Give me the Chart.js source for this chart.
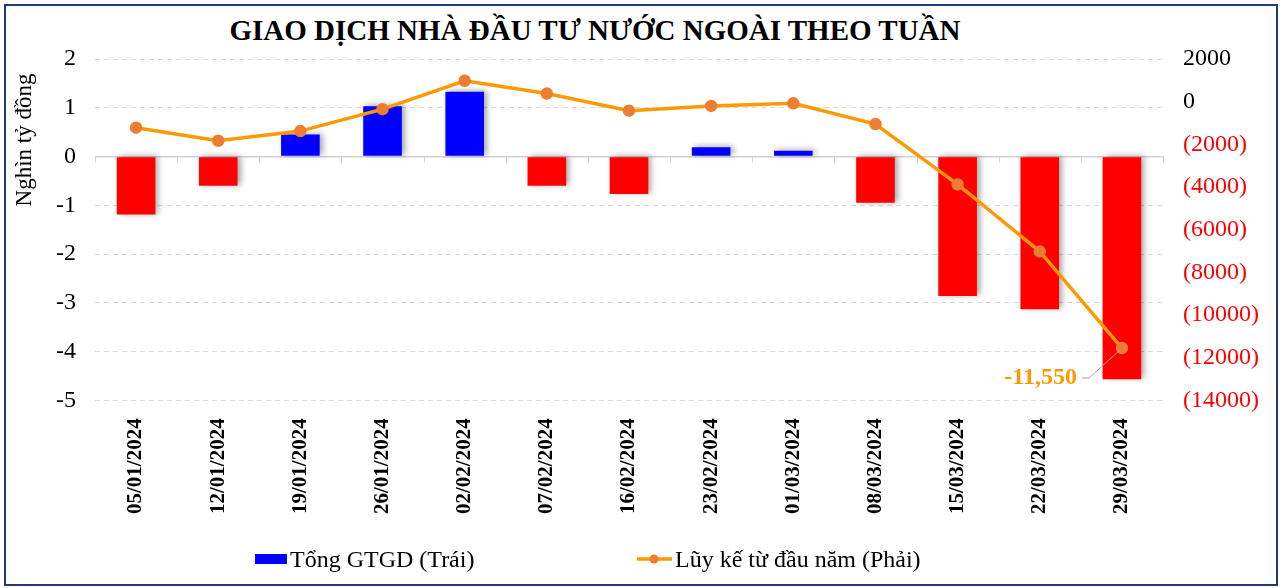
<!DOCTYPE html>
<html lang="vi">
<head>
  <meta charset="UTF-8" />
  <title>Giao dịch nhà đầu tư nước ngoài theo tuần</title>
  <script src="https://cdn.jsdelivr.net/npm/chart.js"></script>
  <style>
    body {
      margin: 0;
      background-color: #fff;
    }

    .frame {
      position: relative;
      width: 1280px;
      height: 588px;
      overflow: hidden;
    }

    .border {
      position: absolute;
      left: 4px;
      top: 4px;
      width: 1270px;
      height: 578px;
      border: 2px solid #1f3a7a;
      pointer-events: none;
    }

    .title {
      position: absolute;
      left: 0;
      top: 13px;
      width: 1190px;
      text-align: center;
      font-family: "Liberation Serif", serif;
      font-weight: bold;
      font-size: 29px;
      line-height: 34px;
      color: #000;
    }

    canvas {
      position: absolute;
      left: 0;
      top: 0;
    }

    .legend {
      position: absolute;
      top: 544px;
      height: 30px;
      display: flex;
      align-items: center;
      font-family: "Liberation Serif", serif;
      font-size: 24px;
      line-height: 30px;
      color: #000;
    }

    .legend .swatch {
      margin-right: 3px;
    }
  </style>
</head>
<body>
  <div class="frame">
    <div class="title">GIAO DỊCH NHÀ ĐẦU TƯ NƯỚC NGOÀI THEO TUẦN</div>
    <canvas id="chart" width="1280" height="588"></canvas>
    <div class="legend" id="leg0" style="left:255px"></div>
    <div class="legend" id="leg1" style="left:637px"></div>
    <div class="border"></div>
  </div>

  <script>
    const weeks = ["05/01/2024", "12/01/2024", "19/01/2024", "26/01/2024", "02/02/2024", "07/02/2024",
      "16/02/2024", "23/02/2024", "01/03/2024", "08/03/2024", "15/03/2024", "22/03/2024", "29/03/2024"];
    const netValue = [-1.19, -0.6, 0.45, 1.03, 1.33, -0.6, -0.77, 0.19, 0.12, -0.95, -2.86, -3.13, -4.57];
    const cumulative = [-1220, -1830, -1380, -350, 980, 380, -420, -200, -80, -1050, -3880, -7020, -11550];
    const leftTicks = [2, 1, 0, -1, -2, -3, -4, -5];
    const rightTicks = [2000, 0, -2000, -4000, -6000, -8000, -10000, -12000, -14000];

    const serif = "'Liberation Serif', 'Times New Roman', serif";

    // bóng đổ cho cột
    const barShadow = {
      id: "barShadow",
      beforeDatasetDraw(chart, args) {
        if (args.index !== 0) return;
        const ctx = chart.ctx;
        ctx.save();
        ctx.shadowColor = "rgba(0,0,0,0.35)";
        ctx.shadowBlur = 6;
        ctx.shadowOffsetX = 3;
        ctx.shadowOffsetY = -1;
      },
      afterDatasetDraw(chart, args) {
        if (args.index !== 0) return;
        chart.ctx.restore();
      }
    };

    // vạch chia trên đường 0 + tên trục trái
    const extras = {
      id: "extras",
      beforeDatasetsDraw(chart) {
        const x = chart.scales.x;
        const y0 = chart.scales.y.getPixelForValue(0);
        const step = (x.right - x.left) / weeks.length;
        const ctx = chart.ctx;
        ctx.save();
        ctx.strokeStyle = "#d0d0d0";
        ctx.lineWidth = 1;
        ctx.beginPath();
        for (let i = 0; i <= weeks.length; i++) {
          const px = Math.round(x.left + step * i) + 0.5;
          ctx.moveTo(px, y0);
          ctx.lineTo(px, y0 + 6);
        }
        ctx.stroke();

        ctx.translate(25, 140);
        ctx.rotate(-Math.PI / 2);
        ctx.fillStyle = "#000";
        ctx.font = "23px " + serif;
        ctx.textAlign = "center";
        ctx.textBaseline = "middle";
        ctx.fillText("Nghìn tỷ đồng", 0, 0);
        ctx.restore();
      }
    };

    // nhãn giá trị cuối
    const lastLabel = {
      id: "lastLabel",
      afterDatasetsDraw(chart) {
        const pt = chart.getDatasetMeta(1).data[cumulative.length - 1];
        const ctx = chart.ctx;
        const tx = pt.x - 45;
        const ty = pt.y + 30;
        ctx.save();
        ctx.strokeStyle = "#a6a6a6";
        ctx.lineWidth = 1;
        ctx.beginPath();
        ctx.moveTo(tx + 5, ty);
        ctx.lineTo(tx + 12, ty);
        ctx.lineTo(pt.x - 2, pt.y + 2);
        ctx.stroke();
        ctx.fillStyle = "#ff9900";
        ctx.font = "bold 24px " + serif;
        ctx.textAlign = "right";
        ctx.textBaseline = "middle";
        ctx.fillText(cumulative[cumulative.length - 1].toLocaleString("en-US"), tx, ty);
        ctx.restore();
      }
    };

    const chart = new Chart(document.getElementById("chart"), {
      data: {
        labels: weeks,
        datasets: [
          {
            type: "bar",
            label: "Tổng GTGD (Trái)",
            data: netValue,
            backgroundColor: netValue.map(v => v >= 0 ? "#0000ff" : "#ff0000"),
            categoryPercentage: 1,
            barPercentage: 0.47,
            yAxisID: "y",
            order: 2
          },
          {
            type: "line",
            label: "Lũy kế từ đầu năm (Phải)",
            data: cumulative,
            borderColor: "#ff9900",
            borderWidth: 3.5,
            pointBackgroundColor: "#ed7d31",
            pointBorderColor: "#ed7d31",
            pointRadius: 4.5,
            tension: 0,
            yAxisID: "y1",
            order: 1
          }
        ]
      },
      options: {
        responsive: false,
        animation: false,
        layout: {
          padding: { top: 59, left: 0, right: 0, bottom: 64 }
        },
        plugins: {
          title: { display: false },
          tooltip: { enabled: false },
          legend: { display: false }
        },
        scales: {
          x: {
            grid: { display: false },
            border: { display: false },
            ticks: {
              font: { family: serif, size: 21, weight: "bold" },
              color: "#000",
              minRotation: 90,
              maxRotation: 90,
              autoSkip: false,
              padding: 10
            }
          },
          y: {
            position: "left",
            min: -5,
            max: 2,
            afterBuildTicks(scale) {
              scale.ticks = leftTicks.map(v => ({ value: v }));
            },
            afterFit(scale) {
              scale.width = 95;
            },
            grid: {
              color: ctx => ctx.tick && ctx.tick.value === 0 ? "#d0d0d0" : "#d9d9d9",
              lineWidth: ctx => ctx.tick && ctx.tick.value === 0 ? 1.5 : 1,
              drawTicks: false
            },
            border: {
              display: false,
              dash: ctx => ctx.tick && ctx.tick.value === 0 ? [] : [5, 4]
            },
            ticks: {
              font: { family: serif, size: 24 },
              color: "#000",
              padding: 19
            }
          },
          y1: {
            position: "right",
            min: -14000,
            max: 2000,
            afterBuildTicks(scale) {
              scale.ticks = rightTicks.map(v => ({ value: v }));
            },
            afterFit(scale) {
              scale.width = 117;
            },
            grid: { display: false, drawTicks: false },
            border: { display: false },
            ticks: {
              font: { family: serif, size: 24 },
              color: ctx => ctx.tick.value < 0 ? "#ff0000" : "#000",
              padding: 20,
              callback: v => v < 0 ? "(" + Math.abs(v) + ")" : String(v)
            }
          }
        }
      },
      plugins: [barShadow, extras, lastLabel]
    });

    // chú thích dạng HTML lấy từ dataset
    chart.data.datasets.forEach((ds, i) => {
      const box = document.getElementById("leg" + i);
      const sw = document.createElement("canvas");
      sw.className = "swatch";
      sw.width = ds.type === "bar" ? 32 : 35;
      sw.height = 12;
      const c = sw.getContext("2d");
      if (ds.type === "bar") {
        c.fillStyle = "#0000ff";
        c.fillRect(0, 1, 32, 10);
      } else {
        c.strokeStyle = ds.borderColor;
        c.lineWidth = 3.5;
        c.beginPath();
        c.moveTo(0, 6);
        c.lineTo(35, 6);
        c.stroke();
        c.fillStyle = ds.pointBackgroundColor;
        c.beginPath();
        c.arc(17, 6, 4.5, 0, Math.PI * 2);
        c.fill();
      }
      sw.style.position = "static";
      box.appendChild(sw);
      const t = document.createElement("span");
      t.textContent = ds.label;
      box.appendChild(t);
    });
  </script>
</body>
</html>
